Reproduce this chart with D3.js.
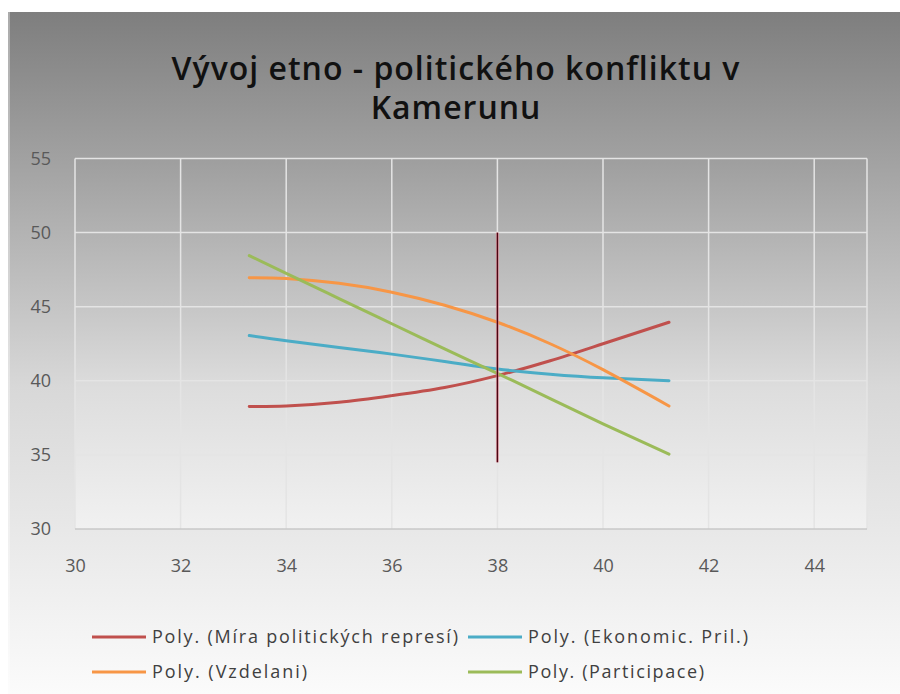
<!DOCTYPE html>
<html>
<head>
<meta charset="utf-8">
<script src="https://cdn.jsdelivr.net/npm/d3@7"></script>
<style>
  body { margin: 0; background: #fff; }
  text { font-family: "Open Sans", "DejaVu Sans", sans-serif; }
</style>
</head>
<body>
<div id="content"></div>
<script>
// trendline sample points
var xPoints = [33.3, 34, 35, 36, 37, 38, 39, 40, 41.25];
var miraRepresi = [38.27, 38.3, 38.55, 39.0, 39.55, 40.35, 41.35, 42.5, 43.95];
var ekonomPril = [43.05, 42.7, 42.25, 41.8, 41.3, 40.8, 40.45, 40.2, 40.0];
var vzdelani = [46.96, 46.9, 46.58, 45.98, 45.1, 43.95, 42.5, 40.75, 38.3];
var participace = [48.45, 47.25, 45.55, 43.85, 42.15, 40.5, 38.8, 37.1, 35.05];

// vertical marker
var markerX = [38, 38];
var markerY = [50, 34.5];

var xTicks = [30, 32, 34, 36, 38, 40, 42, 44];
var yTicks = [30, 35, 40, 45, 50, 55];

var titleLines = ['Vývoj etno - politického konfliktu v', 'Kamerunu'];
var seriesNames = ['Poly. (Míra politických represí)', 'Poly. (Ekonomic. Pril.)', 'Poly. (Vzdelani)', 'Poly. (Participace)'];
var seriesValues = [miraRepresi, ekonomPril, vzdelani, participace];
var seriesColors = ['#c0504d', '#4bacc6', '#f79646', '#9bbb59'];

var W = 900, H = 694;
var svg = d3.select('#content').append('svg').attr('width', W).attr('height', H);
var defs = svg.append('defs');

var bg = defs.append('linearGradient').attr('id', 'bgGrad').attr('x1', 0).attr('y1', 0).attr('x2', 0).attr('y2', 1);
bg.append('stop').attr('offset', '0%').attr('stop-color', '#7e7e7e');
bg.append('stop').attr('offset', '22%').attr('stop-color', '#a2a2a2');
bg.append('stop').attr('offset', '55%').attr('stop-color', '#d8d8d8');
bg.append('stop').attr('offset', '76%').attr('stop-color', '#e8e8e8');
bg.append('stop').attr('offset', '100%').attr('stop-color', '#fbfbfb');

var pg = defs.append('linearGradient').attr('id', 'plotGrad').attr('x1', 0).attr('y1', 0).attr('x2', 0).attr('y2', 1);
pg.append('stop').attr('offset', '0%').attr('stop-color', '#9e9e9e');
pg.append('stop').attr('offset', '40%').attr('stop-color', '#c6c6c6');
pg.append('stop').attr('offset', '62%').attr('stop-color', '#dddddd');
pg.append('stop').attr('offset', '100%').attr('stop-color', '#f1f1f1');

// chart background
svg.append('rect').attr('x', 8).attr('y', 12).attr('width', W - 8).attr('height', H - 12)
  .attr('fill', 'url(#bgGrad)');
svg.append('rect').attr('x', 8).attr('y', 12).attr('width', 2).attr('height', H - 12)
  .attr('fill', '#ffffff').attr('opacity', 0.35);

var x = d3.scaleLinear().domain([30, 45]).range([75, 867]);
var y = d3.scaleLinear().domain([30, 55]).range([529, 158.5]);

// plot area
svg.append('rect').attr('x', x(30)).attr('y', y(55)).attr('width', x(45) - x(30)).attr('height', y(30) - y(55))
  .attr('fill', 'url(#plotGrad)');

// grid
var grid = svg.append('g');
grid.selectAll('line.v').data(xTicks.concat([45])).enter().append('line')
  .attr('x1', d => x(d)).attr('x2', d => x(d))
  .attr('y1', y(55)).attr('y2', y(30))
  .attr('stroke', '#e4e4e4').attr('stroke-width', 1.5);
grid.selectAll('line.h').data(yTicks).enter().append('line')
  .attr('x1', x(30)).attr('x2', x(45))
  .attr('y1', d => y(d)).attr('y2', d => y(d))
  .attr('stroke', d => d == 30 ? '#c8c8c8' : '#e4e4e4').attr('stroke-width', 1.5);

// axes, labels only
var xAxis = svg.append('g').attr('transform', 'translate(0,' + (y(30) + 22) + ')')
  .call(d3.axisBottom(x).tickValues(xTicks).tickSize(0).tickPadding(8));
var yAxis = svg.append('g').attr('transform', 'translate(' + (x(30) - 24) + ',0)')
  .call(d3.axisLeft(y).tickValues(yTicks).tickSize(0).tickPadding(0));
[xAxis, yAxis].forEach(function(a) {
  a.select('.domain').remove();
  a.selectAll('text').attr('font-size', 18).attr('fill', '#595959')
    .style('font-family', '"Open Sans", sans-serif');
});

// trendlines
var line = d3.line().x(d => x(d[0])).y(d => y(d[1])).curve(d3.curveNatural);
seriesValues.forEach(function(vals, i) {
  var pts = xPoints.map((xv, j) => [xv, vals[j]]);
  svg.append('path').attr('d', line(pts))
    .attr('fill', 'none').attr('stroke', seriesColors[i]).attr('stroke-width', 3)
    .attr('stroke-linecap', 'round');
});

// marker line at 38
var mpts = markerX.map((xv, j) => [xv, markerY[j]]);
svg.append('path').attr('d', d3.line().x(d => x(d[0])).y(d => y(d[1]))(mpts))
  .attr('stroke', '#ff9aa8').attr('stroke-width', 3).attr('fill', 'none').attr('opacity', 0.6);
svg.append('path').attr('d', d3.line().x(d => x(d[0])).y(d => y(d[1]))(mpts))
  .attr('stroke', '#4a0612').attr('stroke-width', 1.5).attr('fill', 'none');

// title
svg.append('g').selectAll('text').data(titleLines).enter().append('text')
  .attr('x', 456).attr('y', (d, i) => 80 + i * 39)
  .attr('text-anchor', 'middle').attr('font-size', 32).attr('font-weight', 600)
  .attr('letter-spacing', 1).attr('fill', '#111').text(d => d);

// legend
var legendPos = [[92, 637], [468, 637], [92, 672], [468, 672]];
var legendWidths = [306, 220, 155, 176];
var lg = svg.append('g');
seriesNames.forEach(function(name, i) {
  var p = legendPos[i];
  lg.append('line').attr('x1', p[0]).attr('x2', p[0] + 54).attr('y1', p[1]).attr('y2', p[1])
    .attr('stroke', seriesColors[i]).attr('stroke-width', 3);
  lg.append('text').attr('x', p[0] + 60).attr('y', p[1]).attr('dy', '0.35em')
    .attr('font-size', 18).attr('fill', '#404040')
    .attr('textLength', legendWidths[i]).attr('lengthAdjust', 'spacing').text(name);
});
</script>
</body>
</html>
